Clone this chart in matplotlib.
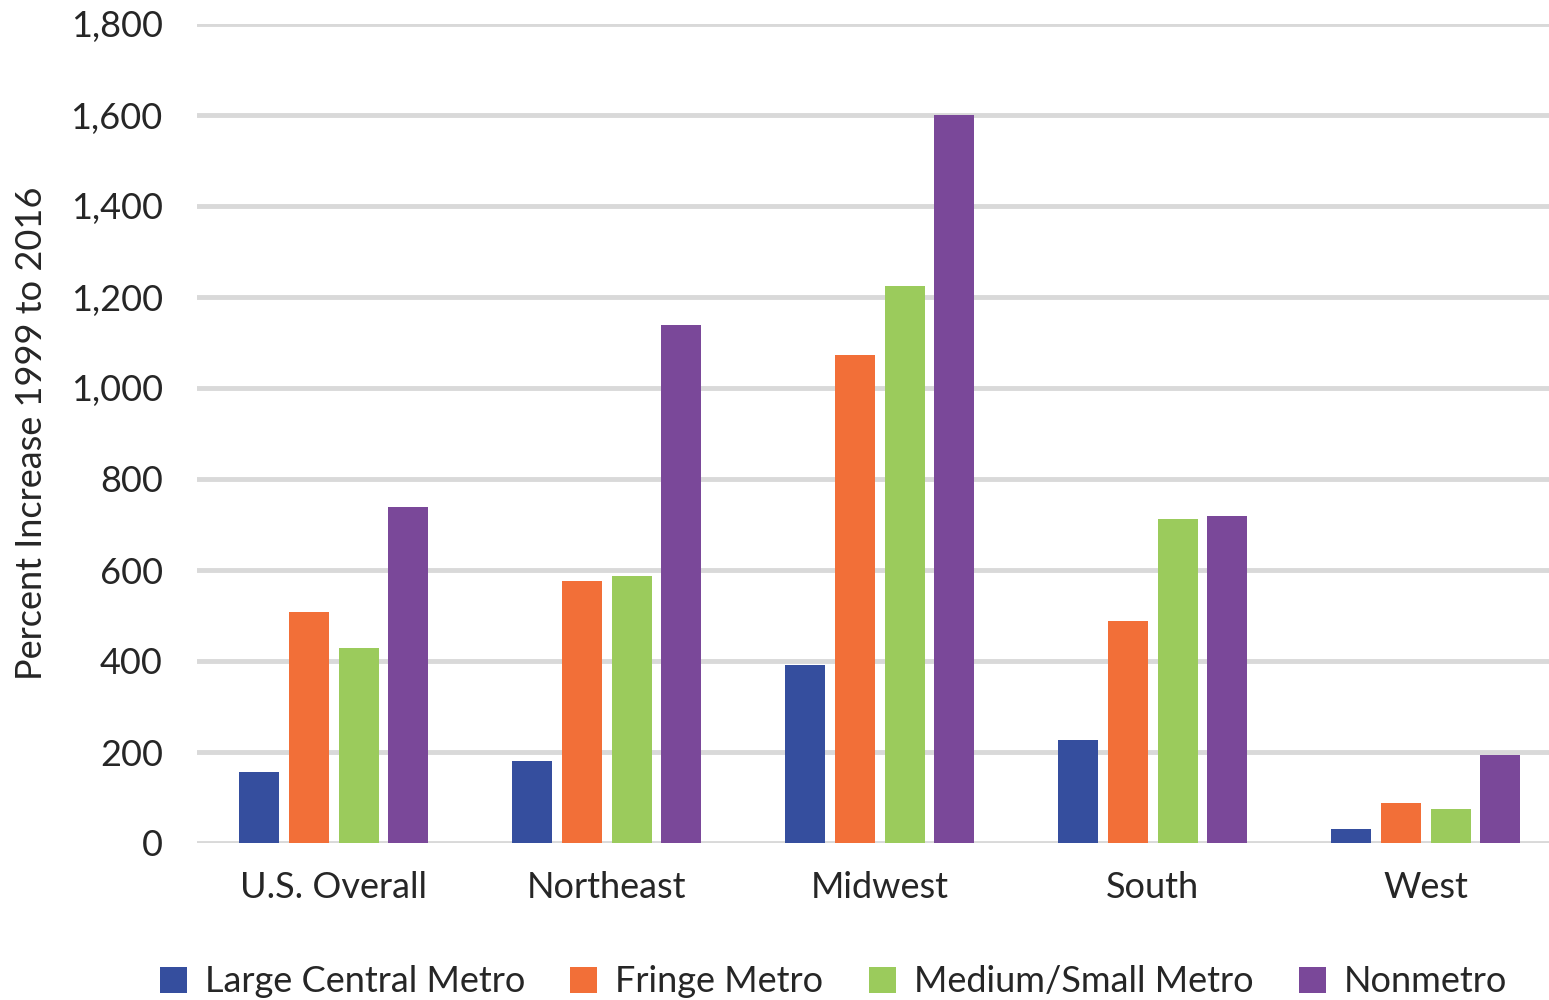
import matplotlib
matplotlib.use("Agg")
import matplotlib.pyplot as plt
import numpy as np

plt.rcParams['font.family'] = ['Lato', 'DejaVu Sans']

categories = ["U.S. Overall", "Northeast", "Midwest", "South", "West"]
series_names = ["Large Central Metro", "Fringe Metro", "Medium/Small Metro", "Nonmetro"]
large_central = [155, 181, 391, 226, 30]
fringe = [508, 576, 1073, 488, 88]
medium_small = [429, 587, 1224, 712, 75]
nonmetro = [738, 1138, 1600, 719, 194]
colors = ["#354E9E", "#F26F38", "#9BCB5C", "#7A4899"]
yticks = [0, 200, 400, 600, 800, 1000, 1200, 1400, 1600, 1800]

series = [large_central, fringe, medium_small, nonmetro]

fig = plt.figure(figsize=(15.49, 10), dpi=100)
ax = fig.add_axes([0.1275, 0.157, 0.881, 0.819])

x = np.arange(len(categories))
pitch = 0.182
width = 0.1465
for i, (vals, c, name) in enumerate(zip(series, colors, series_names)):
    ax.bar(x + (i - 1.5) * pitch, vals, width=width, color=c, label=name, zorder=3)

ax.set_xlim(-0.5, 4.5)
ax.set_ylim(0, 1800)
ax.set_yticks(yticks)
ax.set_yticklabels([f"{v:,}" for v in yticks])
ax.set_xticks(x)
ax.set_xticklabels(categories)
ax.grid(axis='y', color='#D9D9D9', linewidth=3.5, zorder=0)
ax.set_axisbelow(True)
for s in ax.spines.values():
    s.set_visible(False)
ax.tick_params(axis='both', length=0, labelsize=26, colors='#262626')
ax.tick_params(axis='y', pad=25)
ax.tick_params(axis='x', pad=20)
ax.set_ylabel("Percent Increase 1999 to 2016", fontsize=26, color='#262626', labelpad=16)

leg = fig.legend(loc='center', bbox_to_anchor=(0.538, 0.018), ncol=4, frameon=False,
                 fontsize=26, handlelength=0.75, handleheight=0.75, handletextpad=0.5,
                 columnspacing=1.25, labelcolor='#262626')

fig.savefig("out.png", dpi=100)
